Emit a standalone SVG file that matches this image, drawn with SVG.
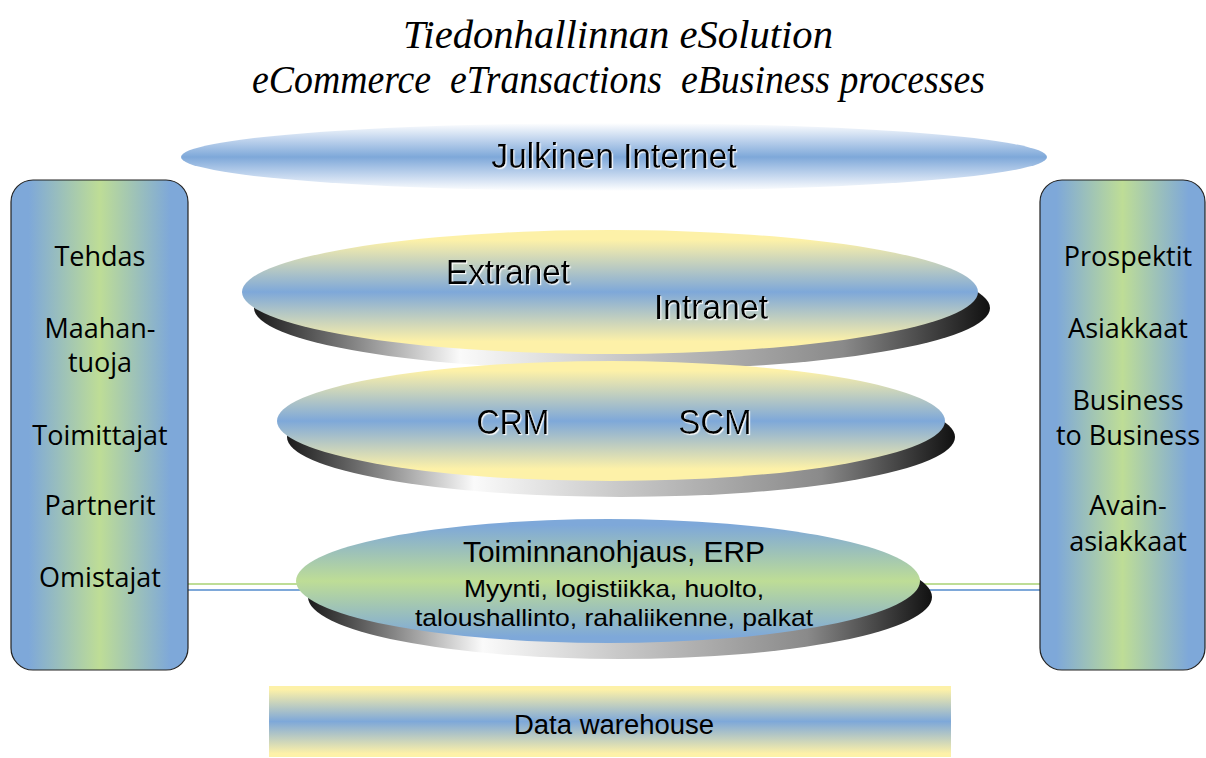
<svg xmlns="http://www.w3.org/2000/svg" width="1206" height="758" viewBox="0 0 1206 758">
<defs>
<style>
.title{font-family:"Liberation Serif",serif;font-style:italic;font-size:40px;fill:#000}
.lbl{font-family:"Liberation Sans",Arial,sans-serif;fill:#000;text-anchor:middle}
.big{font-size:35px}
.side{font-family:"Open Sans","Liberation Sans",sans-serif;font-size:27px;fill:#000;text-anchor:middle}
.edge{stroke:#222;stroke-width:1.2}
</style>
<linearGradient id="gInternet" x1="0" y1="0" x2="0" y2="1">
<stop offset="0" stop-color="#ffffff"/>
<stop offset="0.22" stop-color="#c6d8ef"/>
<stop offset="0.5" stop-color="#7ea8d9"/>
<stop offset="0.78" stop-color="#c6d8ef"/>
<stop offset="1" stop-color="#ffffff"/>
</linearGradient>
<linearGradient id="gYB" x1="0" y1="0" x2="0" y2="1">
<stop offset="0.08" stop-color="#fdf1a8"/>
<stop offset="0.5" stop-color="#7ea8d9"/>
<stop offset="0.9" stop-color="#fdf1a8"/>
</linearGradient>
<linearGradient id="gBG" x1="0" y1="0" x2="0" y2="1">
<stop offset="0.05" stop-color="#7ea8d9"/>
<stop offset="0.5" stop-color="#bedd96"/>
<stop offset="0.95" stop-color="#7ea8d9"/>
</linearGradient>
<linearGradient id="gSide" x1="0" y1="0" x2="1" y2="0">
<stop offset="0.1" stop-color="#7ea8d9"/>
<stop offset="0.5" stop-color="#bedd96"/>
<stop offset="0.9" stop-color="#7ea8d9"/>
</linearGradient>
<linearGradient id="gDW" x1="0" y1="0" x2="0" y2="1">
<stop offset="0.05" stop-color="#fdf1a8"/>
<stop offset="0.5" stop-color="#7ea8d9"/>
<stop offset="0.95" stop-color="#fdf1a8"/>
</linearGradient>
<linearGradient id="gShadow" x1="0" y1="0" x2="1" y2="0">
<stop offset="0" stop-color="#1a1a1a"/>
<stop offset="0.12" stop-color="#777"/>
<stop offset="0.28" stop-color="#fafafa"/>
<stop offset="0.5" stop-color="#c8c8c8"/>
<stop offset="0.8" stop-color="#8a8a8a"/>
<stop offset="1" stop-color="#111"/>
</linearGradient>
<filter id="emb" x="-5%" y="-20%" width="110%" height="140%">
<feDropShadow dx="1.2" dy="1.2" stdDeviation="0" flood-color="#ffffff" flood-opacity="0.9"/>
</filter>
</defs>
<rect width="1206" height="758" fill="#ffffff"/>

<g id="title">
<text class="title" x="403" y="48" textLength="430" lengthAdjust="spacingAndGlyphs">Tiedonhallinnan eSolution</text>
<text class="title" x="252" y="93" textLength="733" lengthAdjust="spacingAndGlyphs" xml:space="preserve">eCommerce  eTransactions  eBusiness processes</text>
</g>

<g id="connectors">
<line x1="188" y1="584" x2="300" y2="584" stroke="#bedd96" stroke-width="2"/>
<line x1="188" y1="590" x2="300" y2="590" stroke="#7ea8d9" stroke-width="2"/>
<line x1="918" y1="584" x2="1040" y2="584" stroke="#bedd96" stroke-width="2"/>
<line x1="918" y1="590" x2="1040" y2="590" stroke="#7ea8d9" stroke-width="2"/>
</g>

<g id="internet">
<ellipse cx="614" cy="157" rx="433" ry="34" fill="url(#gInternet)"/>
<text class="lbl big" x="614" y="168" textLength="245" lengthAdjust="spacingAndGlyphs" filter="url(#emb)">Julkinen Internet</text>
</g>

<g id="extranet">
<ellipse cx="622" cy="308" rx="368" ry="62" fill="url(#gShadow)"/>
<ellipse cx="610" cy="292" rx="368" ry="62" fill="url(#gYB)"/>
<text class="lbl big" x="508" y="284" textLength="124" lengthAdjust="spacingAndGlyphs" filter="url(#emb)">Extranet</text>
<text class="lbl big" x="711" y="319" textLength="114" lengthAdjust="spacingAndGlyphs" filter="url(#emb)">Intranet</text>
</g>

<g id="crmscm">
<ellipse cx="621" cy="437" rx="334" ry="60" fill="url(#gShadow)"/>
<ellipse cx="611" cy="421" rx="334" ry="60" fill="url(#gYB)"/>
<text class="lbl big" x="513" y="434" textLength="73" lengthAdjust="spacingAndGlyphs" filter="url(#emb)">CRM</text>
<text class="lbl big" x="715" y="434" textLength="73" lengthAdjust="spacingAndGlyphs" filter="url(#emb)">SCM</text>
</g>

<g id="erp">
<ellipse cx="620" cy="597" rx="312" ry="62" fill="url(#gShadow)"/>
<ellipse cx="608" cy="581" rx="312" ry="62" fill="url(#gBG)"/>
<text class="lbl" x="614" y="562" font-size="29" textLength="302" lengthAdjust="spacingAndGlyphs">Toiminnanohjaus, ERP</text>
<text class="lbl" x="614" y="597" font-size="24" textLength="300" lengthAdjust="spacingAndGlyphs">Myynti, logistiikka, huolto,</text>
<text class="lbl" x="614" y="626" font-size="24" textLength="398" lengthAdjust="spacingAndGlyphs">taloushallinto, rahaliikenne, palkat</text>
</g>

<g id="left-box">
<rect x="11" y="180" width="177" height="490" rx="22" fill="url(#gSide)" class="edge"/>
<text class="side" x="100" y="266">Tehdas</text>
<text class="side" x="100" y="338">Maahan-</text>
<text class="side" x="100" y="372">tuoja</text>
<text class="side" x="100" y="445">Toimittajat</text>
<text class="side" x="100" y="515">Partnerit</text>
<text class="side" x="100" y="587">Omistajat</text>
</g>

<g id="right-box">
<rect x="1040" y="180" width="165" height="490" rx="22" fill="url(#gSide)" class="edge"/>
<text class="side" x="1128" y="266">Prospektit</text>
<text class="side" x="1128" y="338">Asiakkaat</text>
<text class="side" x="1128" y="410">Business</text>
<text class="side" x="1128" y="445">to Business</text>
<text class="side" x="1128" y="515">Avain-</text>
<text class="side" x="1128" y="551">asiakkaat</text>
</g>

<g id="data-warehouse">
<rect x="269" y="686" width="682" height="71" fill="url(#gDW)"/>
<text class="lbl" x="614" y="734" font-size="27" textLength="200" lengthAdjust="spacingAndGlyphs">Data warehouse</text>
</g>
</svg>
